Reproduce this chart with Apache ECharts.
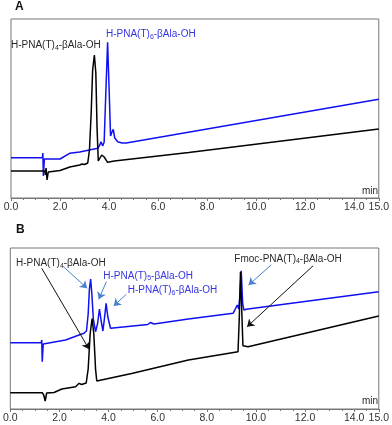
<!DOCTYPE html>
<html>
<head>
<meta charset="utf-8">
<script src="https://cdn.jsdelivr.net/npm/echarts@6/dist/echarts.min.js"></script>
<style>
  html, body { margin: 0; padding: 0; background: #fff; }
  #chart { width: 392px; height: 425px; }
</style>
</head>
<body>
<div id="chart"></div>
<script>
// retention time (min) / detector signal (arbitrary units)
const traceABlack = [
  [0, 27], [1.38, 27], [1.40, 23], [1.43, 30], [1.47, 18], [1.52, 26], [1.6, 27.3],
  [2.0, 27.5], [2.4, 31], [2.8, 33], [2.9, 34], [3.0, 33.5], [3.13, 35], [3.20, 48],
  [3.27, 85], [3.33, 128], [3.40, 143], [3.46, 125], [3.51, 70], [3.56, 37], [3.62, 38],
  [3.70, 43], [3.74, 43.7], [3.80, 41], [3.94, 35.7], [4.21, 37], [7.25, 45.5], [15, 69]
]
const traceABlue = [
  [0, 40.3], [1.28, 40.3], [1.30, 45], [1.32, 22], [1.36, 39], [2.0, 39], [2.39, 44.7],
  [2.8, 46], [3.2, 48], [3.54, 49.7], [3.62, 53], [3.67, 56.3], [3.74, 52], [3.80, 56],
  [3.86, 100], [3.94, 155.7], [4.00, 110], [4.06, 62], [4.12, 66], [4.17, 68.7],
  [4.23, 60], [4.35, 56.3], [4.53, 55], [4.7, 55], [15, 98.7]
]
const traceBBlack = [
  [0, 16.3], [1.30, 16.3], [1.36, 14], [1.42, 8], [1.48, 16], [1.55, 16.3], [1.78, 16.5],
  [2.1, 20], [2.66, 22.3], [2.8, 25.7], [2.9, 24.5], [3.09, 26], [3.17, 40], [3.25, 75],
  [3.33, 90.5], [3.40, 75], [3.47, 40], [3.52, 28], [3.6, 27.5], [4.94, 35.5],
  [7.25, 49], [9.27, 57.3], [9.32, 90], [9.37, 137.3], [9.42, 100], [9.47, 63.3],
  [9.55, 62.5], [9.68, 62.3], [15, 93]
]
const traceBBlue = [
  [0, 66.3], [1.26, 66.3], [1.28, 69], [1.30, 47.3], [1.34, 65], [1.40, 65], [2.25, 69],
  [2.8, 74], [3.0, 75.7], [3.1, 78], [3.17, 95], [3.22, 120], [3.27, 130], [3.32, 115],
  [3.38, 90], [3.47, 77.3], [3.55, 85], [3.63, 100], [3.70, 88], [3.77, 78], [3.83, 90],
  [3.90, 105.7], [3.97, 92], [4.08, 80.7], [5.6, 84.5], [5.7, 86.5], [5.85, 85],
  [7.25, 90], [9.07, 95.7], [9.24, 104], [9.30, 100], [9.35, 115], [9.40, 138.3],
  [9.46, 105], [9.51, 99], [9.6, 99.7], [15, 117.3]
]

// arrows in panel B: [from, to] in data coordinates
const blackArrows = [
  [[1.28, 140.7], [3.21, 59.7]],
  [[12.33, 143.3], [9.64, 82.3]]
]
const blueArrows = [
  [[2.16, 142.3], [3.13, 120.7]],
  [[3.91, 127.3], [3.60, 109.7]],
  [[4.72, 114.7], [4.21, 103]],
  [[10.62, 144], [9.70, 124]]
]

const blueTrace = '#1010f0'
const blueText = '#3535e0'
const blueArrow = '#4a80d0'
const darkText = '#2a2a2a'
const fontFamily = '"Liberation Sans", Arial, sans-serif'

const chart = echarts.init(document.getElementById('chart'))

function xAxisFor(gridIndex) {
  return {
    type: 'value',
    gridIndex: gridIndex,
    min: 0,
    max: 15,
    interval: 2,
    axisLine: { show: true, lineStyle: { color: '#777', width: 1 } },
    axisTick: { show: true, length: 3, lineStyle: { color: '#777' } },
    minorTick: { show: true, splitNumber: 4, length: 2, lineStyle: { color: '#777' } },
    splitLine: { show: false },
    axisLabel: {
      margin: 4,
      fontSize: 10.5,
      color: '#333',
      fontFamily: fontFamily,
      showMaxLabel: true,
      formatter: (v) => v.toFixed(1)
    }
  }
}

function arrowLines(arrows, color) {
  return {
    silent: true,
    animation: false,
    symbol: ['none', 'arrow'],
    symbolSize: 7,
    label: { show: false },
    lineStyle: { color: color, width: 1, type: 'solid' },
    data: arrows.map(([from, to]) => [{ coord: from }, { coord: to }])
  }
}

function traceSeries(data, color, axisIndex, markLine) {
  const s = {
    type: 'line',
    xAxisIndex: axisIndex,
    yAxisIndex: axisIndex,
    data: data,
    showSymbol: false,
    smooth: false,
    lineStyle: { color: color, width: 1.5 },
    itemStyle: { color: color }
  }
  if (markLine) s.markLine = markLine
  return s
}

function label(text, left, y, color) {
  return {
    type: 'text',
    left: left,
    top: y - 6,
    style: {
      text: text,
      fill: color,
      font: '10px ' + fontFamily,
      rich: {
        s: { fontSize: 7, lineHeight: 8, verticalAlign: 'bottom', fill: color, fontFamily: fontFamily }
      },
      lineHeight: 12
    }
  }
}

const option = {
  animation: false,
  backgroundColor: '#fff',
  grid: [
    { left: 11, right: 10, top: 19, height: 179, show: true, borderColor: '#777', borderWidth: 1 },
    { left: 10, right: 11, top: 248, height: 161, show: true, borderColor: '#777', borderWidth: 1 }
  ],
  xAxis: [xAxisFor(0), xAxisFor(1)],
  yAxis: [
    { type: 'value', gridIndex: 0, min: 0, max: 179, show: false },
    { type: 'value', gridIndex: 1, min: 0, max: 161, show: false }
  ],
  series: [
    traceSeries(traceABlue, blueTrace, 0),
    traceSeries(traceABlack, '#000', 0),
    traceSeries(traceBBlue, blueTrace, 1, arrowLines(blueArrows, blueArrow)),
    traceSeries(traceBBlack, '#000', 1, arrowLines(blackArrows, '#111'))
  ],
  graphic: [
    { type: 'text', left: 15, top: 1, style: { text: 'A', fill: '#111', font: 'bold 12px ' + fontFamily } },
    { type: 'text', left: 16, top: 224, style: { text: 'B', fill: '#111', font: 'bold 12px ' + fontFamily } },
    label('H-PNA(T){s|4}-βAla-OH', 11, 45.7, darkText),
    label('H-PNA(T){s|6}-βAla-OH', 106, 34.3, blueText),
    label('H-PNA(T){s|4}-βAla-OH', 16, 263.3, darkText),
    label('H-PNA(T){s|5}-βAla-OH', 103.3, 276, blueText),
    label('H-PNA(T){s|6}-βAla-OH', 127.7, 290.7, blueText),
    label('Fmoc-PNA(T){s|4}-βAla-OH', 234.3, 259, darkText),
    { type: 'text', right: 14, top: 186, style: { text: 'min', fill: darkText, font: '10px ' + fontFamily } },
    { type: 'text', right: 14, top: 396, style: { text: 'min', fill: darkText, font: '10px ' + fontFamily } }
  ]
}

chart.setOption(option)
</script>
</body>
</html>
